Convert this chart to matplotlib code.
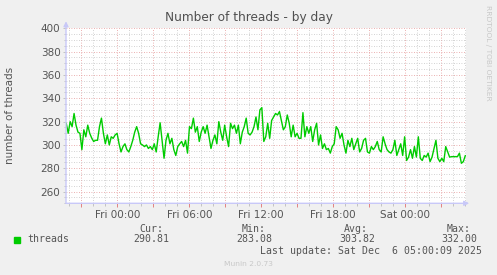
import matplotlib.pyplot as plt
import numpy as np
import pandas as pd
from matplotlib.patches import Rectangle
from matplotlib.ticker import MultipleLocator

# munin "threads" graph, day view

# one reading every ~10 minutes
THREADS = [
    318.6, 310, 320, 315.7, 327, 317, 311, 310, 296, 313, 307, 317, 310, 306,
    303, 304, 304, 315.7, 323, 310, 301, 308.6, 300, 307, 305.7, 308.6, 310,
    301, 294, 298.6, 301, 296, 294, 298.6, 304, 311, 315.7, 310, 301, 300,
    298.6, 300, 297, 298.6, 296, 301, 294, 307, 319, 304, 288.6, 304, 310,
    301, 305.7, 296, 291, 298.6, 301, 303, 298.6, 304, 293, 315.7, 314, 323,
    311, 315.7, 303,
    311, 315.7, 310, 317, 307, 297, 304, 308.6, 301, 320, 311, 304, 317, 307,
    298.6, 318.6, 314, 317, 310, 317, 301, 311, 315.7, 323, 310, 308.6, 311,
    315.7, 324, 313, 330, 332, 303, 307, 318.6, 305.7, 321, 324, 327, 325.7,
    328.6, 321, 313, 315.7, 325.7, 318.6, 307, 317, 307, 310, 305.7, 305.7,
    327.7, 307, 315.7, 310, 315.7, 303, 313, 318.6, 300, 308.6, 297, 301, 296,
    297, 293, 298.6,
    301, 315.7, 313, 305.7, 310, 300, 293, 304, 298.6, 305.7, 296, 301, 305.7,
    294, 297, 304, 305.7, 294, 293, 298.6, 296, 298.6, 303, 296, 294, 307, 301,
    296, 294, 293, 296, 304, 291, 296, 301, 291, 307, 286.7, 289.6, 296, 288.6,
    298.6, 289.6, 307, 288.6, 286.7, 291, 289.6, 293, 285.7, 289.6, 297, 304,
    288.6, 285.7, 288.6, 285.7, 298.6, 294, 289.6, 290, 290, 290, 290, 293,
    284.3, 285.7, 290.8,
]
START = "2025-12-04 19:45"
END = "2025-12-06 05:00"
DAY0 = pd.Timestamp("2025-12-05 00:00")

X_LIM = (-4.27, 29.06)
X_LABELS = {0: "Fri 00:00", 6: "Fri 06:00", 12: "Fri 12:00",
            18: "Fri 18:00", 24: "Sat 00:00"}
Y_LIM = (250, 400)
Y_TICKS = [260, 280, 300, 320, 340, 360, 380, 400]

CUR, MIN, AVG, MAX = 290.81, 283.08, 303.82, 332.00
LAST_UPDATE = "Last update: Sat Dec  6 05:00:09 2025"

W, H = 497, 275
BG = '#F0F0F0'
GREEN = '#00CC00'
TXT = '#555555'
AXIS = '#C8C8F8'


def fx(px):
    return px / W


def fy(px):
    return 1 - px / H


times = pd.date_range(START, END, periods=len(THREADS))
hours = np.asarray((times - DAY0) / pd.Timedelta(hours=1))

fig = plt.figure(figsize=(W / 100, H / 100), dpi=100, facecolor=BG)
ax = fig.add_axes([fx(66), fy(203.3), 400 / W, 175 / H])
ax.set_facecolor('white')

ax.plot(hours, THREADS, color=GREEN, lw=1)

ax.set_xlim(*X_LIM)
ax.set_ylim(*Y_LIM)

major_x = np.arange(-3, 30, 3)
ax.set_xticks(major_x)
ax.set_xticklabels([X_LABELS.get(int(h), "") for h in major_x])
ax.xaxis.set_minor_locator(MultipleLocator(1))
ax.set_yticks(Y_TICKS)
ax.set_yticklabels([str(v) for v in Y_TICKS])
ax.yaxis.set_minor_locator(MultipleLocator(5))

ax.grid(which='minor', color='#C4C4C4', linestyle=(0, (1, 2)), lw=0.6)
ax.grid(which='major', color='#E49696', linestyle=(0, (1, 2)), lw=0.6)
ax.set_axisbelow(True)

ax.tick_params(axis='x', which='major', color='#E07070', length=3, width=0.6,
               labelsize=7.5, labelcolor=TXT, pad=2)
ax.tick_params(axis='x', which='minor', color='#BBBBBB', length=2, width=0.6)
ax.tick_params(axis='y', which='major', color='#BBBBBB', length=2, width=0.6,
               labelsize=7.5, labelcolor=TXT, pad=2)
ax.tick_params(axis='y', which='minor', color='#BBBBBB', length=1.5, width=0.6)

for s in ax.spines.values():
    s.set_visible(False)

# axis lines with arrow heads, rrdtool style
ax.annotate('', xy=(1.008, 0), xytext=(0, 0), xycoords='axes fraction',
            arrowprops=dict(arrowstyle='-|>', color=AXIS, lw=1,
                            mutation_scale=7, shrinkA=0, shrinkB=0))
ax.annotate('', xy=(0, 1.04), xytext=(0, 0), xycoords='axes fraction',
            arrowprops=dict(arrowstyle='-|>', color=AXIS, lw=1,
                            mutation_scale=7, shrinkA=0, shrinkB=0))

fig.text(0.5, fy(17), "Number of threads - by day", ha='center', va='center',
         fontsize=8.7, color='#505050')
fig.text(fx(10), fy(115.5), "number of threads", rotation=90, ha='center',
         va='center', fontsize=7.5, color=TXT)
fig.text(fx(488.3), fy(5), "RRDTOOL / TOBI OETIKER", rotation=270,
         ha='center', va='top', fontsize=5.4, color='#C8C8C8')

# legend block
mono = dict(family='DejaVu Sans Mono', fontsize=7.1, color=TXT)
fig.patches.append(Rectangle((fx(14), fy(243)), 6 / W, 6 / H, color=GREEN,
                             transform=fig.transFigure, figure=fig))
fig.text(fx(27), fy(239.5), "threads", va='center', ha='left', **mono)

heads = ["Cur:", "Min:", "Avg:", "Max:"]
vals = [CUR, MIN, AVG, MAX]
head_x = [163.3, 266, 368.3, 470.7]
val_x = [169.3, 272.7, 375, 477.3]
for hd, v, hx, vx in zip(heads, vals, head_x, val_x):
    fig.text(fx(hx), fy(229), hd, ha='right', va='center', **mono)
    fig.text(fx(vx), fy(239.5), f"{v:.2f}", ha='right', va='center', **mono)

fig.text(fx(482.3), fy(251), LAST_UPDATE, ha='right', va='center', **mono)
fig.text(0.5, fy(264), "Munin 2.0.73", ha='center', va='center',
         fontsize=5.4, color='#C8C8C8')

fig.savefig('out.png', dpi=100, facecolor=BG)
